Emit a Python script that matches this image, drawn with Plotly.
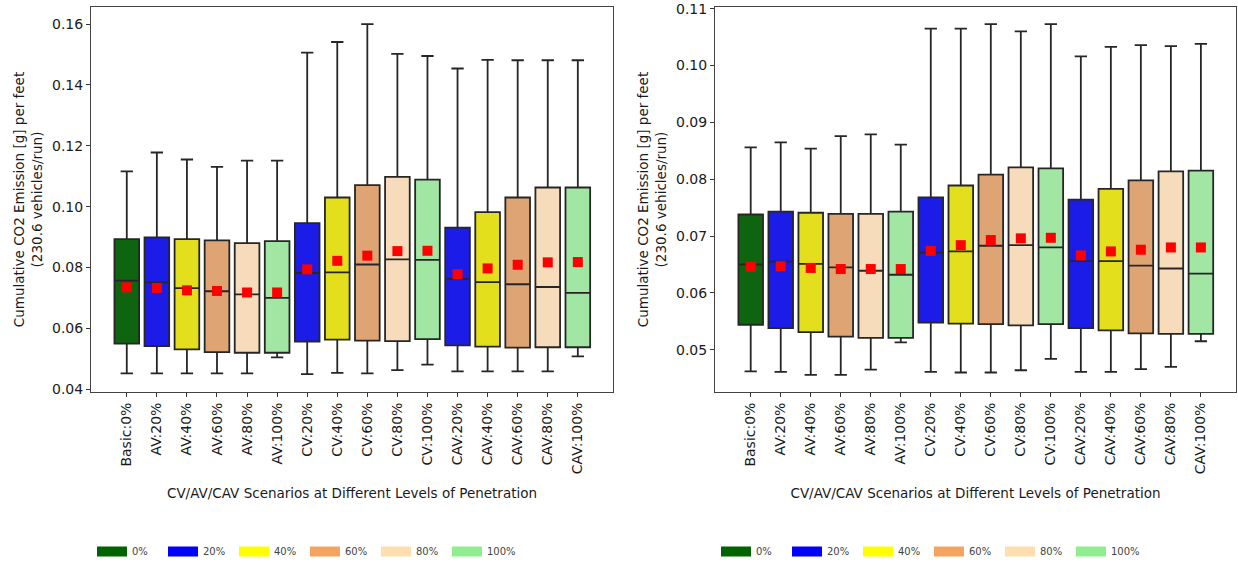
import plotly.graph_objects as go
from plotly.subplots import make_subplots

# Scenario labels along the x axis
scenarios = ["Basic:0%", "AV:20%", "AV:40%", "AV:60%", "AV:80%", "AV:100%",
             "CV:20%", "CV:40%", "CV:60%", "CV:80%", "CV:100%",
             "CAV:20%", "CAV:40%", "CAV:60%", "CAV:80%", "CAV:100%"]

# Penetration level of each scenario (index into the palette / legend)
level_idx = [0, 1, 2, 3, 4, 5, 1, 2, 3, 4, 5, 1, 2, 3, 4, 5]
level_names = ["0%", "20%", "40%", "60%", "80%", "100%"]

# Legend colours and the (desaturated) box fill colours
legend_colors = ["#006400", "#0000ff", "#ffff00", "#f4a460", "#ffdead", "#90ee90"]
box_colors = ["#0f650f", "#1c1ce8", "#e4df1c", "#dfa474", "#f6dcbb", "#a2e6a4"]

# Left panel: box statistics
left_hi = [0.1116, 0.1178, 0.1155, 0.1131, 0.1151, 0.1151, 0.1506, 0.1541,
           0.1600, 0.1502, 0.1495, 0.1454, 0.1482, 0.1481, 0.1481, 0.1481]
left_q3 = [0.0893, 0.0899, 0.0893, 0.0889, 0.0880, 0.0887, 0.0946, 0.1030,
           0.1071, 0.1098, 0.1089, 0.0931, 0.0982, 0.1030, 0.1063, 0.1063]
left_med = [0.0757, 0.0751, 0.0732, 0.0722, 0.0712, 0.0700, 0.0782, 0.0784,
            0.0810, 0.0827, 0.0825, 0.0763, 0.0752, 0.0745, 0.0736, 0.0717]
left_mean = [0.0735, 0.0733, 0.0725, 0.0723, 0.0718, 0.0718, 0.0794, 0.0822,
             0.0839, 0.0854, 0.0855, 0.0778, 0.0797, 0.0809, 0.0817, 0.0818]
left_q1 = [0.0550, 0.0542, 0.0531, 0.0522, 0.0520, 0.0520, 0.0557, 0.0563,
           0.0560, 0.0558, 0.0565, 0.0544, 0.0540, 0.0537, 0.0538, 0.0538]
left_lo = [0.0452, 0.0452, 0.0452, 0.0452, 0.0452, 0.0505, 0.0450, 0.0454,
           0.0452, 0.0463, 0.0481, 0.0459, 0.0459, 0.0459, 0.0459, 0.0508]

# Right panel: box statistics
right_hi = [0.0856, 0.0865, 0.0854, 0.0876, 0.0879, 0.0861, 0.1065, 0.1065,
            0.1073, 0.1060, 0.1073, 0.1016, 0.1033, 0.1036, 0.1034, 0.1038]
right_q3 = [0.0738, 0.0743, 0.0741, 0.0739, 0.0739, 0.0743, 0.0768, 0.0789,
            0.0808, 0.0821, 0.0819, 0.0764, 0.0783, 0.0798, 0.0814, 0.0815]
right_med = [0.0650, 0.0655, 0.0651, 0.0645, 0.0639, 0.0632, 0.0671, 0.0673,
             0.0683, 0.0684, 0.0680, 0.0656, 0.0656, 0.0648, 0.0643, 0.0634]
right_mean = [0.0646, 0.0647, 0.0644, 0.0642, 0.0642, 0.0642, 0.0674, 0.0684,
              0.0693, 0.0696, 0.0697, 0.0666, 0.0673, 0.0676, 0.0680, 0.0680]
right_q1 = [0.0544, 0.0538, 0.0531, 0.0523, 0.0521, 0.0521, 0.0548, 0.0546,
            0.0545, 0.0543, 0.0545, 0.0538, 0.0534, 0.0529, 0.0528, 0.0528]
right_lo = [0.0462, 0.0461, 0.0456, 0.0456, 0.0465, 0.0513, 0.0461, 0.0460,
            0.0460, 0.0464, 0.0484, 0.0461, 0.0461, 0.0466, 0.0470, 0.0515]

FONT = "DejaVu Sans"
TXT = "#1a1a1a"
EDGE = "#262626"

fig = make_subplots(rows=1, cols=2)
positions = list(range(len(scenarios)))

panels = [
    (1, left_lo, left_q1, left_med, left_q3, left_hi, left_mean),
    (2, right_lo, right_q1, right_med, right_q3, right_hi, right_mean),
]

for col, lo, q1, med, q3, hi, mean in panels:
    for i, name in enumerate(scenarios):
        fig.add_trace(go.Box(
            x=[i], lowerfence=[lo[i]], q1=[q1[i]], median=[med[i]],
            q3=[q3[i]], upperfence=[hi[i]], name=name,
            width=0.82, whiskerwidth=0.5, boxpoints=False,
            fillcolor=box_colors[level_idx[i]],
            line=dict(color=EDGE, width=1.8),
            showlegend=False, hoverinfo="skip",
        ), row=1, col=col)
    fig.add_trace(go.Scatter(
        x=positions, y=mean, mode="markers",
        marker=dict(symbol="square", size=10, color="#ff0000"),
        showlegend=False, hoverinfo="skip",
    ), row=1, col=col)
    legend_id = "legend" if col == 1 else "legend2"
    for name, c in zip(level_names, legend_colors):
        fig.add_trace(go.Scatter(
            x=[None], y=[None], mode="lines", name=name,
            line=dict(color=c, width=13), legend=legend_id,
        ), row=1, col=col)

W, H = 1238, 566
axis_common = dict(
    showline=True, mirror=True, linecolor="#444444", linewidth=1,
    ticks="outside", ticklen=4, tickcolor="#333333", showgrid=False,
    zeroline=False, tickfont=dict(family=FONT, size=14, color=TXT),
)

x_title = dict(text="CV/AV/CAV Scenarios at Different Levels of Penetration",
               font=dict(family=FONT, size=13.5, color=TXT))
y_title = dict(text="Cumulative CO2 Emission [g] per feet<br>(230.6 vehicles/run)",
               font=dict(family=FONT, size=13.5, color=TXT), standoff=6)

fig.update_xaxes(
    **axis_common, tickmode="array", tickvals=positions, ticktext=scenarios,
    tickangle=-90, range=[-1.19, 16.17], title=x_title,
)
fig.update_xaxes(domain=[91 / W, 613 / W], row=1, col=1)
fig.update_xaxes(domain=[715 / W, 1236 / W], row=1, col=2)

fig.update_yaxes(**axis_common, tickformat=".2f", title=y_title)
fig.update_yaxes(range=[0.0391, 0.1656], dtick=0.02, tick0=0.04, row=1, col=1)
fig.update_yaxes(range=[0.04257, 0.1103], dtick=0.01, tick0=0.05, row=1, col=2)

plot_h = 390
legend_y = (397 - 559) / plot_h
legend_common = dict(
    orientation="h", yanchor="middle", y=legend_y, xanchor="left",
    font=dict(family=FONT, size=10, color="#444444"),
    itemwidth=30, entrywidth=26, entrywidthmode="pixels",
    bgcolor="rgba(0,0,0,0)", tracegroupgap=0,
)

fig.update_layout(
    width=W, height=H,
    margin=dict(l=0, r=0, t=7, b=169),
    paper_bgcolor="white", plot_bgcolor="white",
    font=dict(family=FONT, color=TXT),
    legend=dict(**legend_common, x=92 / W),
    legend2=dict(**legend_common, x=716 / W),
)

fig.write_html("out.html")
